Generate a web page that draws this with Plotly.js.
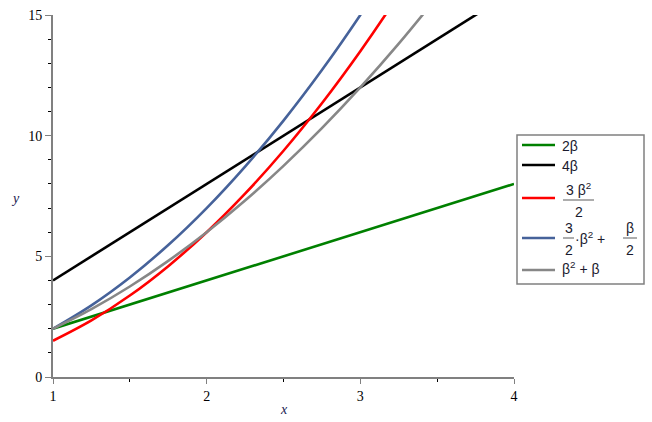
<!DOCTYPE html>
<html><head><meta charset="utf-8">
<script src="https://cdn.plot.ly/plotly-3.0.1.min.js"></script>
<style>html,body{margin:0;padding:0;background:#fff}#chart{width:652px;height:422px}</style>
</head><body>
<div id="chart"></div>
<script>
const xCurve = [1, 1.25, 1.5, 1.75, 2, 2.25, 2.5, 2.75, 3, 3.25, 3.5];
const xLine = [1, 4];
const y2b = [2, 8];
const y4b = [4, 16];
const y3b2 = [1.5, 2.344, 3.375, 4.594, 6, 7.594, 9.375, 11.344, 13.5, 15.844, 18.375];
const yBlue = [2, 2.969, 4.125, 5.469, 7, 8.719, 10.625, 12.719, 15, 17.469, 20.125];
const yGray = [2, 2.8125, 3.75, 4.8125, 6, 7.3125, 8.75, 10.3125, 12, 13.8125, 15.75];
const xTicks = [1, 2, 3, 4];
const yTicks = [0, 5, 10, 15];

function toPx(v) { return (v - 53) / 461; }
function toPy(v) { return (377 - v) / 362; }

const traceDefs = [[xLine, y2b, '#008000'], [xLine, y4b, '#000000'], [xCurve, y3b2, '#ff0000'],
  [xCurve, yBlue, '#46629a'], [xCurve, yGray, '#878787']];
const traces = traceDefs.map(function (d) {
  return {x: d[0], y: d[1], type: 'scatter', mode: 'lines', line: {color: d[2], width: 2.6, shape: 'spline'}};
});

const shapes = [{type: 'rect', xref: 'paper', yref: 'paper', x0: toPx(517), x1: toPx(644), y0: toPy(135), y1: toPy(284),
  line: {color: '#808080', width: 1.5}}];
[[145, '#008000'], [165, '#000000'], [198, '#ff0000'], [238, '#46629a'], [270, '#878787']].forEach(function (d) {
  shapes.push({type: 'line', xref: 'paper', yref: 'paper', x0: toPx(522), x1: toPx(555), y0: toPy(d[0]), y1: toPy(d[0]),
    line: {color: d[1], width: 2.6}});
});
[[563, 594, 200], [563, 574, 238], [623, 637, 238]].forEach(function (d) {
  shapes.push({type: 'line', xref: 'paper', yref: 'paper', x0: toPx(d[0]), x1: toPx(d[1]), y0: toPy(d[2]), y1: toPy(d[2]),
    line: {color: '#808080', width: 1.3}});
});

function legText(text, x, y, anchor) {
  return {text: text, x: toPx(x), y: toPy(y), xref: 'paper', yref: 'paper', xanchor: anchor || 'left', yanchor: 'middle',
    showarrow: false, font: {family: 'Liberation Sans', size: 14, color: '#1a1a2e'}};
}
const annotations = [
  legText('2β', 560, 146),
  legText('4β', 560, 166),
  legText('3 β<sup>2</sup>', 578.5, 189, 'center'),
  legText('2', 578.5, 212, 'center'),
  legText('3', 568.5, 228, 'center'),
  legText('2', 568.5, 250, 'center'),
  legText('·β<sup>2</sup> +', 573, 238),
  legText('β', 630, 228, 'center'),
  legText('2', 630, 250, 'center'),
  legText('β<sup>2</sup> + β', 560, 268),
  {text: '<i>x</i>', x: 0.5, y: toPy(409), xref: 'paper', yref: 'paper', showarrow: false, xanchor: 'center', yanchor: 'middle',
   font: {family: 'Liberation Serif', size: 14, color: '#1a1a50'}},
  {text: '<i>y</i>', x: toPx(15), y: toPy(198), xref: 'paper', yref: 'paper', showarrow: false, xanchor: 'center', yanchor: 'middle',
   font: {family: 'Liberation Serif', size: 14, color: '#1a1a50'}}
];

const layout = {
  width: 652, height: 422, margin: {l: 53, r: 138, t: 15, b: 45},
  font: {family: 'Liberation Serif', size: 14, color: '#000'}, showlegend: false,
  xaxis: {range: [1, 4], tickvals: xTicks, showgrid: false, zeroline: false, showline: true, linecolor: '#808080', linewidth: 2,
    ticks: 'outside', ticklen: 5, tickcolor: '#808080', tickfont: {family: 'Liberation Serif', size: 14, color: '#000'},
    minor: {dtick: 0.5, tick0: 1, ticklen: 3, tickcolor: '#000', ticks: 'outside', showgrid: false}},
  yaxis: {range: [0, 15], tickvals: yTicks, showgrid: false, zeroline: false, showline: true, linecolor: '#808080', linewidth: 2,
    ticks: 'outside', ticklen: 6, tickcolor: '#808080', tickfont: {family: 'Liberation Serif', size: 14, color: '#000'},
    minor: {dtick: 1, tick0: 0, ticklen: 3, tickcolor: '#000', ticks: 'outside', showgrid: false}},
  shapes: shapes, annotations: annotations
};
Plotly.newPlot('chart', traces, layout, {displayModeBar: false});
</script></body></html>
